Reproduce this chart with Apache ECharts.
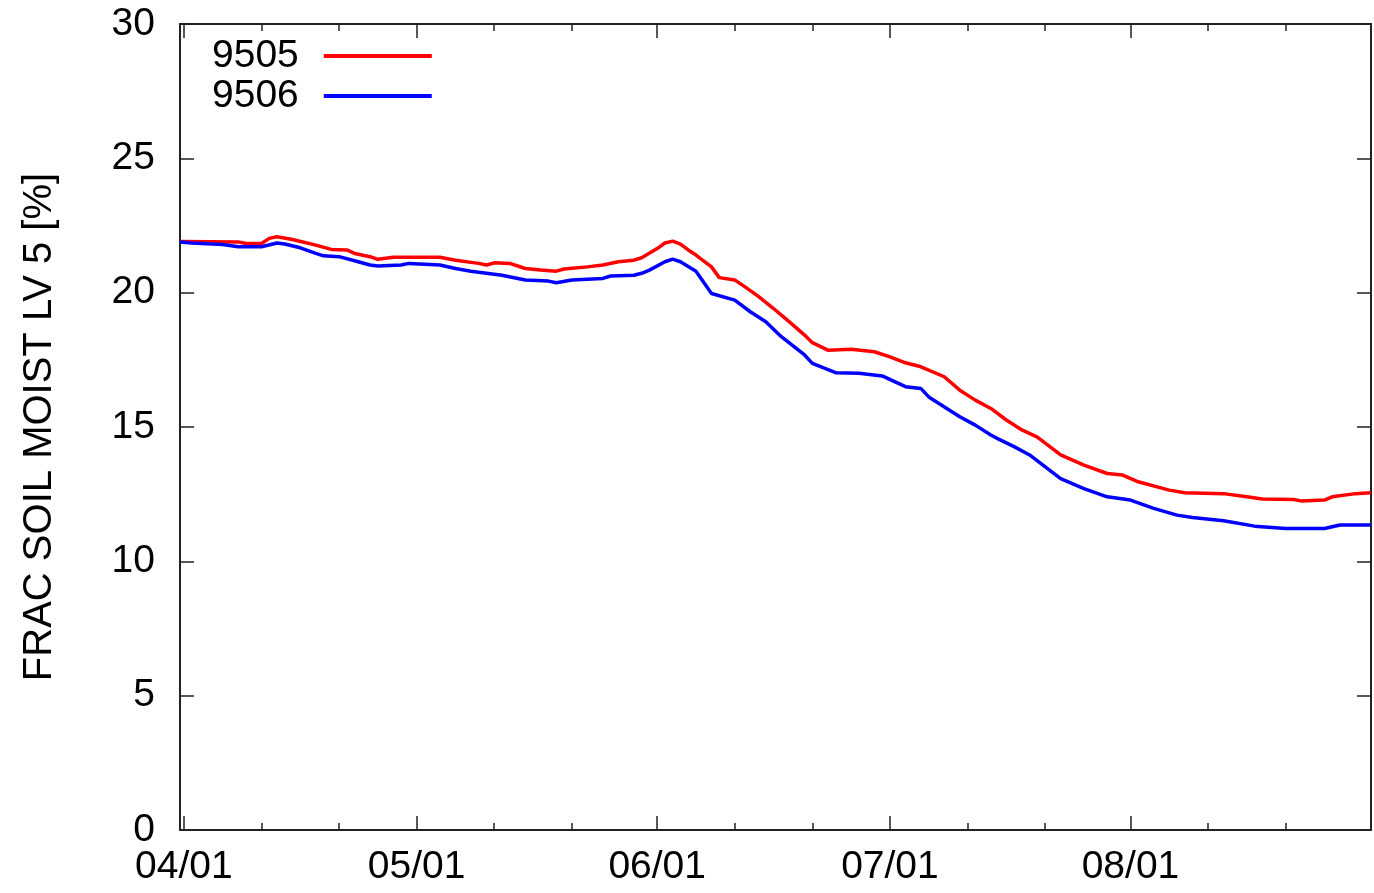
<!DOCTYPE html>
<html>
<head>
<meta charset="utf-8">
<script src="https://cdn.jsdelivr.net/npm/echarts@6/dist/echarts.min.js"></script>
<style>
    html, body { margin: 0; padding: 0; background: #fff; }
    #chart { width: 1374px; height: 893px; }
</style>
</head>
<body>
<div id="chart"></div>
<script type="text/javascript">
    // data
    var monthTicks = ['2019-04-01', '2019-05-01', '2019-06-01', '2019-07-01', '2019-08-01'];
    var minorTicks = ['2019-04-11', '2019-04-21', '2019-05-11', '2019-05-21', '2019-06-11', '2019-06-21',
        '2019-07-11', '2019-07-21', '2019-08-11', '2019-08-21'];

    var redDates = ['2019-03-31 12:00', '2019-04-08', '2019-04-09', '2019-04-11', '2019-04-12', '2019-04-13',
        '2019-04-15', '2019-04-18', '2019-04-20', '2019-04-22', '2019-04-23', '2019-04-25', '2019-04-26',
        '2019-04-28', '2019-05-04', '2019-05-06', '2019-05-09', '2019-05-10', '2019-05-11', '2019-05-13',
        '2019-05-15', '2019-05-17', '2019-05-19', '2019-05-20', '2019-05-23', '2019-05-25', '2019-05-27',
        '2019-05-29', '2019-05-30', '2019-06-01', '2019-06-02', '2019-06-03', '2019-06-04', '2019-06-05',
        '2019-06-06', '2019-06-08', '2019-06-09', '2019-06-11', '2019-06-12', '2019-06-14', '2019-06-16',
        '2019-06-18', '2019-06-20', '2019-06-21', '2019-06-23', '2019-06-26', '2019-06-29', '2019-07-01',
        '2019-07-03', '2019-07-05', '2019-07-08', '2019-07-10', '2019-07-12', '2019-07-14', '2019-07-16',
        '2019-07-18', '2019-07-20', '2019-07-23', '2019-07-26', '2019-07-29', '2019-07-31', '2019-08-02',
        '2019-08-06', '2019-08-08', '2019-08-13', '2019-08-16', '2019-08-18', '2019-08-22', '2019-08-23',
        '2019-08-26', '2019-08-27', '2019-08-30', '2019-09-01'];
    var redValues = [21.90, 21.89, 21.83, 21.83, 22.02, 22.08,
        21.98, 21.77, 21.61, 21.59, 21.46, 21.34, 21.24,
        21.32, 21.32, 21.21, 21.09, 21.03, 21.11, 21.09,
        20.90, 20.84, 20.80, 20.88, 20.96, 21.03, 21.15,
        21.21, 21.30, 21.64, 21.85, 21.92, 21.81, 21.59,
        21.40, 20.96, 20.56, 20.47, 20.28, 19.87, 19.41,
        18.92, 18.42, 18.14, 17.86, 17.89, 17.80, 17.61,
        17.39, 17.24, 16.87, 16.37, 16.00, 15.69, 15.26,
        14.89, 14.62, 13.96, 13.58, 13.27, 13.21, 12.96,
        12.65, 12.55, 12.52, 12.40, 12.32, 12.30, 12.25,
        12.28, 12.40, 12.52, 12.55];

    var blueDates = ['2019-03-31 12:00', '2019-04-02', '2019-04-06', '2019-04-08', '2019-04-11', '2019-04-13',
        '2019-04-14', '2019-04-16', '2019-04-18', '2019-04-19', '2019-04-21', '2019-04-23', '2019-04-25',
        '2019-04-26', '2019-04-29', '2019-04-30', '2019-05-04', '2019-05-06', '2019-05-08', '2019-05-12',
        '2019-05-15', '2019-05-18', '2019-05-19', '2019-05-21', '2019-05-25', '2019-05-26', '2019-05-29',
        '2019-05-30', '2019-05-31', '2019-06-02', '2019-06-03', '2019-06-04', '2019-06-06', '2019-06-08',
        '2019-06-11', '2019-06-13', '2019-06-15', '2019-06-17', '2019-06-20', '2019-06-21', '2019-06-24',
        '2019-06-27', '2019-06-30', '2019-07-03', '2019-07-05', '2019-07-06', '2019-07-10', '2019-07-12',
        '2019-07-14', '2019-07-15', '2019-07-17', '2019-07-19', '2019-07-23', '2019-07-26', '2019-07-29',
        '2019-08-01', '2019-08-04', '2019-08-07', '2019-08-09', '2019-08-13', '2019-08-17', '2019-08-21',
        '2019-08-26', '2019-08-28', '2019-09-01'];
    var blueValues = [21.89, 21.85, 21.79, 21.71, 21.71, 21.85,
        21.81, 21.67, 21.46, 21.37, 21.34, 21.19, 21.03,
        20.99, 21.03, 21.09, 21.03, 20.90, 20.80, 20.65,
        20.47, 20.43, 20.37, 20.47, 20.53, 20.62, 20.65,
        20.72, 20.84, 21.15, 21.25, 21.15, 20.80, 19.97,
        19.72, 19.29, 18.92, 18.36, 17.68, 17.37, 17.02,
        17.00, 16.90, 16.50, 16.43, 16.12, 15.38, 15.07,
        14.70, 14.55, 14.27, 13.96, 13.08, 12.71, 12.40,
        12.28, 11.97, 11.72, 11.63, 11.51, 11.31, 11.22,
        11.22, 11.35, 11.35];

    function pairs(dates, values) {
        var out = [];
        for (var i = 0; i < dates.length; i++) {
            out.push([dates[i], values[i]]);
        }
        return out;
    }

    var font = "'Liberation Sans', Arial, sans-serif";
    var lineCol = '#222';
    var xMin = '2019-03-31 12:00';
    var xMax = '2019-09-01';

    function timeAxis(pos, ticks, len, labels) {
        return {
            type: 'time',
            position: pos,
            min: xMin,
            max: xMax,
            axisLine: { show: true, onZero: false, lineStyle: { color: lineCol, width: 2 } },
            axisTick: { show: true, inside: true, length: len, customValues: ticks,
                lineStyle: { color: lineCol, width: 1.5 } },
            axisLabel: labels ? {
                show: true, customValues: ticks, formatter: '{MM}/{dd}',
                fontFamily: font, fontSize: 39, color: '#000', margin: 18
            } : { show: false },
            splitLine: { show: false }
        };
    }

    function valueAxis(pos, labels) {
        return {
            type: 'value',
            position: pos,
            min: 0,
            max: 30,
            interval: 5,
            name: labels ? 'FRAC SOIL MOIST LV 5 [%]' : '',
            nameLocation: 'middle',
            nameGap: 120,
            nameTextStyle: { fontFamily: font, fontSize: 40, color: '#000' },
            axisLine: { show: true, lineStyle: { color: lineCol, width: 2 } },
            axisTick: { show: true, inside: true, length: 14, lineStyle: { color: lineCol, width: 1.5 } },
            axisLabel: labels ? { fontFamily: font, fontSize: 39, color: '#000', margin: 25 } : { show: false },
            splitLine: { show: false }
        };
    }

    var chart = echarts.init(document.getElementById('chart'));
    var option = {
        animation: false,
        backgroundColor: '#fff',
        grid: { left: 180, right: 3, top: 24, bottom: 63 },
        legend: {
            orient: 'vertical',
            left: 207,
            top: 31,
            align: 'right',
            itemWidth: 108,
            itemHeight: 4,
            itemGap: 0,
            icon: 'rect',
            textStyle: { fontFamily: font, fontSize: 39, color: '#000', lineHeight: 40, padding: [0, 20, 0, 0] },
            data: ['9505', '9506']
        },
        xAxis: [
            timeAxis('bottom', monthTicks, 14, true),
            timeAxis('bottom', minorTicks, 7, false),
            timeAxis('top', monthTicks, 14, false),
            timeAxis('top', minorTicks, 7, false)
        ],
        yAxis: [
            valueAxis('left', true),
            valueAxis('right', false)
        ],
        series: [
            {
                name: '9505',
                type: 'line',
                showSymbol: false,
                symbol: 'none',
                color: '#ff0000',
                lineStyle: { color: '#ff0000', width: 3.5 },
                data: pairs(redDates, redValues)
            },
            {
                name: '9506',
                type: 'line',
                showSymbol: false,
                symbol: 'none',
                color: '#0000ff',
                lineStyle: { color: '#0000ff', width: 3.5 },
                data: pairs(blueDates, blueValues)
            }
        ]
    };
    chart.setOption(option);
</script>
</body>
</html>
